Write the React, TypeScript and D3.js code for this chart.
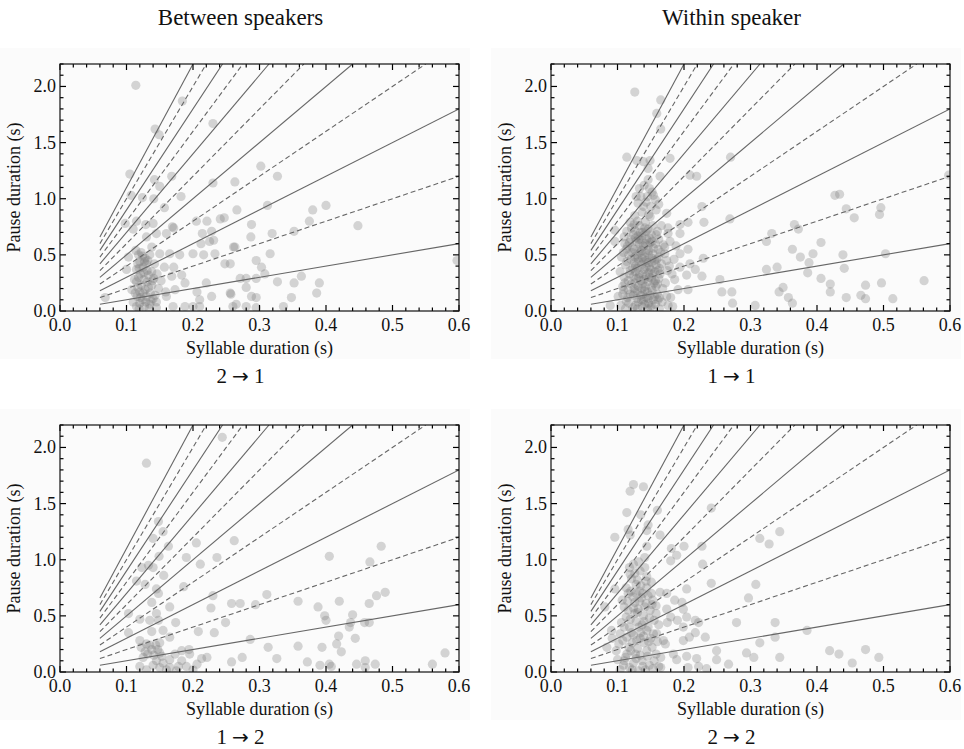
import React from 'react';
import * as d3 from 'd3';

type P = [number, number];

const slopes = [1, 2, 3, 4, 5, 6, 7, 8, 9, 10, 11];
const xTicks = [0, 0.1, 0.2, 0.3, 0.4, 0.5, 0.6];
const xTickLabels = ['0.0', '0.1', '0.2', '0.3', '0.4', '0.5', '0.6'];
const yTicks = [0, 0.5, 1, 1.5, 2];
const yTickLabels = ['0.0', '0.5', '1.0', '1.5', '2.0'];
const columnTitles = ['Between speakers', 'Within speaker'];
const panelFrom = ['2', '1', '1', '2'];
const panelTo = ['1', '1', '2', '2'];
const xLabel = 'Syllable duration (s)';
const yLabel = 'Pause duration (s)';

const between21: P[] = [
  [0.114,2.01],[0.143,1.62],[0.149,1.57],[0.184,1.87],[0.230,1.67],
  [0.105,1.22],[0.107,1.03],[0.124,1.01],[0.142,1.17],[0.150,1.11],[0.141,1.00],[0.168,1.20],[0.182,1.02],[0.157,0.92],[0.230,1.14],[0.263,1.15],[0.266,0.90],[0.247,0.83],[0.241,0.82],[0.221,0.80],[0.205,0.80],[0.098,0.78],[0.115,0.80],[0.129,0.77],[0.140,0.78],[0.169,0.75],
  [0.302,1.29],[0.327,1.20],[0.312,0.94],[0.288,0.77],[0.380,0.90],[0.400,0.94],[0.375,0.80],[0.448,0.76],[0.319,0.69],[0.352,0.71],
  [0.287,0.66],[0.263,0.57],[0.248,0.42],[0.256,0.42],[0.316,0.51],[0.295,0.45],[0.303,0.39],[0.308,0.33],[0.271,0.29],[0.280,0.29],[0.295,0.29],[0.280,0.21],[0.327,0.26],[0.352,0.25],[0.363,0.31],[0.390,0.25],[0.386,0.16],[0.348,0.12],[0.257,0.15],[0.288,0.13],[0.295,0.12],[0.265,0.06],[0.280,0.04],[0.295,0.03],[0.336,0.04],[0.597,0.45],
  [0.068,0.12],[0.110,0.73],[0.130,0.66],[0.145,0.69],[0.160,0.69],[0.171,0.74],[0.214,0.69],[0.228,0.71],[0.231,0.63],[0.212,0.60],[0.225,0.62],[0.200,0.51],[0.216,0.50],[0.233,0.51],[0.261,0.57],
  [0.103,0.48],[0.114,0.54],[0.118,0.50],[0.120,0.44],[0.128,0.47],[0.130,0.42],[0.138,0.57],[0.150,0.51],[0.165,0.51],[0.180,0.50],[0.157,0.39],[0.171,0.39],[0.168,0.31],[0.183,0.32],[0.115,0.37],[0.125,0.39],[0.138,0.35],[0.115,0.26],[0.122,0.23],[0.131,0.26],[0.138,0.23],[0.113,0.16],[0.120,0.17],[0.130,0.13],[0.140,0.11],[0.110,0.08],[0.120,0.07],[0.135,0.06],[0.145,0.08],[0.115,0.04],[0.127,0.04],[0.145,0.03],[0.100,0.37],[0.159,0.17],[0.173,0.19],[0.160,0.13],[0.170,0.04],[0.188,0.04],[0.206,0.17],[0.210,0.10],[0.200,0.04],[0.220,0.25],[0.228,0.13],[0.210,0.04],[0.256,0.16],[0.260,0.04],[0.188,0.25],
  [0.118,0.30],[0.126,0.28],[0.133,0.32],[0.121,0.12],[0.128,0.19],[0.136,0.16],[0.117,0.21],[0.124,0.10],[0.132,0.45],[0.122,0.52],[0.126,0.34],[0.141,0.29],[0.112,0.28],[0.119,0.02],[0.134,0.02],[0.148,0.20],[0.152,0.27],[0.108,0.19],[0.142,0.42],[0.135,0.50],
  [0.119,0.38],[0.127,0.44],[0.121,0.33],[0.133,0.21],[0.125,0.16],[0.137,0.09],[0.116,0.13],[0.129,0.08],[0.143,0.14],[0.124,0.49],[0.131,0.36],[0.139,0.27],[0.117,0.42],[0.146,0.33],
];

const within11: P[] = [
  [0.126,1.95],[0.165,1.88],[0.159,1.76],[0.165,1.62],[0.114,1.37],[0.129,1.34],[0.139,1.33],[0.149,1.34],[0.179,1.36],[0.270,1.37],[0.146,1.27],[0.164,1.20],[0.146,1.17],[0.209,1.21],[0.219,1.20],
  [0.133,1.09],[0.135,1.02],[0.145,1.02],[0.148,1.09],[0.154,1.03],[0.157,0.99],[0.131,0.96],[0.139,0.93],[0.150,0.93],[0.126,0.85],[0.174,0.87],[0.227,0.93],[0.206,0.79],[0.194,0.77],[0.230,0.79],[0.269,0.82],[0.096,0.72],[0.096,0.62],[0.111,0.60],
  [0.176,0.69],[0.179,0.62],[0.194,0.69],[0.194,0.51],[0.206,0.55],[0.171,0.51],[0.174,0.45],[0.229,0.47],[0.194,0.39],[0.209,0.42],[0.217,0.37],[0.227,0.31],[0.204,0.32],[0.186,0.28],[0.191,0.19],[0.206,0.19],[0.254,0.28],[0.257,0.17],[0.272,0.17],[0.273,0.07],[0.307,0.05],[0.089,0.05],[0.101,0.13],[0.109,0.19],[0.176,0.05],[0.174,0.13],[0.161,0.10],
  [0.598,1.21],[0.427,1.03],[0.434,1.04],[0.444,0.91],[0.456,0.83],[0.496,0.92],[0.494,0.86],[0.366,0.77],[0.372,0.73],[0.332,0.69],[0.324,0.62],[0.406,0.61],[0.363,0.55],[0.375,0.48],[0.394,0.51],[0.388,0.43],[0.386,0.34],[0.439,0.50],[0.441,0.38],[0.503,0.51],[0.324,0.37],[0.340,0.39],[0.406,0.29],[0.420,0.24],[0.420,0.17],[0.473,0.23],[0.497,0.25],[0.561,0.27],[0.343,0.17],[0.349,0.21],[0.357,0.12],[0.363,0.07],[0.444,0.12],[0.466,0.14],[0.473,0.11],[0.514,0.11],
  [0.105,0.05],[0.108,0.22],[0.110,0.30],[0.112,0.41],[0.106,0.48],[0.113,0.55],[0.110,0.66],[0.104,0.35],[0.115,0.12],[0.112,0.02],
  [0.117,0.07],[0.119,0.15],[0.121,0.24],[0.118,0.33],[0.123,0.38],[0.120,0.46],[0.122,0.52],[0.118,0.61],[0.124,0.68],[0.121,0.74],[0.119,0.79],[0.123,0.03],[0.116,0.27],[0.125,0.20],[0.122,0.57],
  [0.127,0.05],[0.129,0.11],[0.126,0.17],[0.131,0.22],[0.128,0.29],[0.133,0.33],[0.127,0.40],[0.132,0.44],[0.129,0.50],[0.134,0.55],[0.128,0.62],[0.131,0.67],[0.126,0.72],[0.133,0.76],[0.130,0.02],[0.135,0.14],[0.127,0.35],[0.133,0.60],[0.130,0.80],[0.135,0.27],
  [0.137,0.04],[0.139,0.09],[0.141,0.18],[0.138,0.24],[0.143,0.31],[0.140,0.37],[0.137,0.47],[0.142,0.52],[0.139,0.58],[0.144,0.64],[0.138,0.70],[0.141,0.74],[0.143,0.12],[0.136,0.41],[0.144,0.45],[0.140,0.28],[0.142,0.79],[0.138,0.15],[0.145,0.02],[0.136,0.63],
  [0.147,0.07],[0.149,0.14],[0.151,0.21],[0.146,0.26],[0.153,0.33],[0.148,0.39],[0.152,0.43],[0.147,0.50],[0.154,0.56],[0.149,0.61],[0.151,0.68],[0.146,0.73],[0.153,0.76],[0.150,0.03],[0.155,0.25],[0.148,0.30],[0.154,0.10],[0.146,0.58],[0.152,0.47],[0.149,0.84],
  [0.157,0.06],[0.160,0.15],[0.158,0.22],[0.162,0.29],[0.156,0.35],[0.163,0.38],[0.159,0.46],[0.165,0.52],[0.157,0.60],[0.162,0.64],[0.160,0.71],[0.166,0.76],[0.168,0.20],[0.164,0.33],[0.167,0.08],[0.158,0.41],[0.161,0.55],[0.169,0.59],[0.163,0.02],[0.166,0.42],
  [0.172,0.25],[0.175,0.36],[0.178,0.40],[0.182,0.33],[0.171,0.57],[0.185,0.46],[0.180,0.12],[0.183,0.04],[0.176,0.74],[0.188,0.58],
  [0.137,0.88],[0.143,0.97],[0.152,1.06],[0.140,1.12],[0.158,0.90],[0.128,1.02],[0.147,0.86],[0.162,0.95],
  [0.113,0.09],[0.116,0.19],[0.119,0.36],[0.114,0.44],[0.117,0.50],[0.115,0.58],[0.114,0.71],[0.120,0.64],[0.124,0.14],[0.126,0.25],[0.124,0.31],[0.125,0.43],[0.126,0.48],[0.125,0.55],[0.127,0.65],[0.125,0.77],[0.131,0.08],[0.130,0.18],[0.132,0.30],[0.130,0.38],[0.131,0.47],[0.134,0.52],[0.132,0.64],[0.134,0.70],[0.136,0.10],[0.137,0.20],[0.138,0.33],[0.136,0.54],[0.139,0.44],[0.137,0.67],[0.141,0.06],[0.142,0.22],[0.143,0.39],[0.141,0.48],[0.142,0.60],[0.143,0.71],[0.146,0.11],[0.145,0.17],[0.147,0.34],[0.146,0.43],[0.147,0.54],[0.148,0.65],[0.151,0.05],[0.152,0.18],[0.151,0.29],[0.150,0.37],[0.153,0.51],[0.152,0.62],[0.156,0.13],[0.157,0.27],[0.156,0.45],[0.158,0.68],[0.161,0.36],[0.162,0.48],[0.111,0.25],[0.108,0.15],[0.109,0.52],[0.163,0.12],[0.160,0.24],
];

const between12: P[] = [
  [0.130,1.86],[0.244,2.09],[0.148,1.34],[0.155,1.25],[0.140,1.19],[0.163,1.12],[0.205,1.15],[0.262,1.17],[0.190,1.02],[0.236,1.02],[0.149,1.03],[0.211,0.96],[0.123,0.93],[0.133,0.95],[0.140,0.93],[0.156,0.86],[0.115,0.81],[0.128,0.78],[0.145,0.74],[0.148,0.70],[0.138,0.62],[0.186,0.76],[0.230,0.68],[0.227,0.57],[0.165,0.58],[0.174,0.44],[0.311,0.69],[0.258,0.61],[0.271,0.61],[0.294,0.60],[0.103,0.52],[0.120,0.47],[0.145,0.52],[0.148,0.46],[0.135,0.46],[0.103,0.35],[0.138,0.36],[0.155,0.37],[0.208,0.36],[0.232,0.35],[0.249,0.44],[0.165,0.31],[0.150,0.26],[0.120,0.28],
  [0.122,0.22],[0.128,0.18],[0.135,0.24],[0.141,0.15],[0.147,0.20],[0.153,0.14],[0.125,0.13],[0.132,0.16],[0.138,0.20],[0.144,0.24],[0.150,0.17],[0.130,0.25],
  [0.183,0.19],[0.194,0.20],[0.173,0.16],[0.286,0.29],[0.313,0.22],[0.213,0.12],[0.221,0.13],[0.206,0.07],[0.200,0.02],[0.258,0.09],[0.274,0.13],[0.120,0.05],[0.145,0.10],[0.150,0.04],[0.165,0.04],[0.178,0.05],[0.165,0.11],[0.195,0.16],[0.183,0.10],
  [0.130,0.02],[0.155,0.08],[0.160,0.02],[0.140,0.06],[0.175,0.01],[0.190,0.05],
  [0.483,1.12],[0.405,1.03],[0.466,0.98],[0.489,0.71],[0.476,0.68],[0.465,0.61],[0.358,0.63],[0.420,0.63],[0.388,0.58],[0.398,0.50],[0.400,0.46],[0.440,0.51],[0.437,0.44],[0.435,0.40],[0.458,0.44],[0.465,0.44],[0.419,0.32],[0.416,0.25],[0.423,0.18],[0.444,0.30],[0.394,0.22],[0.358,0.23],[0.326,0.12],[0.372,0.09],[0.391,0.06],[0.405,0.07],[0.408,0.05],[0.446,0.07],[0.459,0.10],[0.459,0.04],[0.474,0.07],[0.560,0.07],[0.579,0.17],
];

const within22: P[] = [
  [0.124,1.67],[0.119,1.61],[0.139,1.65],[0.114,1.42],[0.135,1.40],[0.160,1.44],[0.241,1.46],[0.116,1.27],[0.119,1.22],[0.146,1.31],[0.144,1.26],[0.164,1.22],[0.096,1.20],[0.144,1.12],[0.181,1.10],[0.189,1.04],[0.180,0.99],[0.200,1.12],[0.227,1.12],[0.228,0.96],
  [0.141,1.02],[0.124,0.96],[0.134,0.90],[0.119,0.87],[0.141,0.93],[0.121,0.83],[0.128,0.78],[0.113,0.75],[0.133,0.72],[0.144,0.85],[0.151,0.80],[0.144,0.75],[0.096,0.74],[0.204,0.74],[0.241,0.79],[0.308,0.78],[0.164,0.71],[0.174,0.70],[0.081,0.58],
  [0.107,0.64],[0.126,0.62],[0.116,0.55],[0.131,0.56],[0.143,0.61],[0.153,0.64],[0.158,0.59],[0.186,0.64],[0.197,0.62],[0.199,0.56],[0.174,0.56],[0.180,0.49],[0.175,0.44],[0.190,0.46],[0.204,0.49],[0.217,0.46],[0.222,0.44],[0.297,0.66],[0.279,0.44],[0.232,0.31],[0.199,0.40],[0.217,0.35],[0.208,0.31],[0.199,0.28],
  [0.091,0.37],[0.104,0.34],[0.114,0.31],[0.124,0.33],[0.134,0.30],[0.144,0.37],[0.159,0.34],[0.169,0.28],[0.172,0.25],[0.084,0.22],[0.098,0.19],[0.114,0.16],[0.134,0.15],[0.144,0.19],[0.165,0.13],[0.100,0.11],[0.110,0.10],[0.124,0.08],[0.138,0.05],[0.148,0.06],[0.165,0.04],[0.118,0.40],[0.128,0.45],[0.113,0.49],[0.137,0.42],[0.148,0.48],[0.122,0.26],[0.130,0.21],[0.140,0.26],[0.152,0.22],[0.108,0.28],[0.118,0.04],[0.128,0.12],[0.155,0.10],[0.120,0.19],[0.135,0.35],[0.150,0.30],[0.106,0.44],[0.126,0.52],[0.139,0.50],[0.110,0.58],[0.123,0.67],[0.136,0.66],[0.116,0.70],[0.130,0.82],[0.146,0.68],[0.158,0.52],[0.162,0.42],[0.092,0.30],[0.104,0.02],[0.131,0.01],[0.158,0.16],
  [0.184,0.16],[0.189,0.11],[0.204,0.14],[0.219,0.12],[0.222,0.05],[0.162,0.05],[0.249,0.19],[0.249,0.11],[0.267,0.07],[0.294,0.17],[0.305,0.13],[0.206,0.04],[0.234,0.03],
  [0.344,1.25],[0.314,1.19],[0.328,1.14],[0.337,0.44],[0.337,0.31],[0.314,0.26],[0.385,0.37],[0.344,0.13],[0.419,0.19],[0.433,0.16],[0.453,0.08],[0.473,0.20],[0.493,0.13],
  [0.112,0.13],[0.117,0.22],[0.121,0.35],[0.119,0.47],[0.124,0.57],[0.120,0.72],[0.126,0.88],[0.129,0.28],[0.132,0.40],[0.130,0.53],[0.133,0.63],[0.135,0.77],[0.127,0.16],[0.137,0.10],[0.139,0.32],[0.140,0.45],[0.141,0.58],[0.138,0.70],[0.143,0.81],[0.145,0.14],[0.147,0.27],[0.146,0.40],[0.149,0.55],[0.151,0.70],[0.154,0.34],[0.155,0.46],[0.153,0.03],[0.109,0.06],[0.115,0.63],[0.118,0.93],[0.132,0.98],[0.110,0.40],[0.102,0.25],[0.122,0.02],[0.142,0.02],[0.160,0.27],[0.152,0.60],[0.128,0.70],
];

const PW = 399;
const PH = 247;
const FONT = '"Liberation Serif", "Times New Roman", serif';

function Panel({ id, left, top, data, from, to }: { id: string; left: number; top: number; data: P[]; from: string; to: string }) {
  const x = d3.scaleLinear().domain([0, 0.6]).range([0, PW]);
  const y = d3.scaleLinear().domain([0, 2.2]).range([PH, 0]);
  const xMinor = d3.range(0, 0.6001, 0.02);
  const yMinor = d3.range(0, 2.2001, 0.1);
  const isMajorX = (v: number) => Math.abs(v * 10 - Math.round(v * 10)) < 1e-6;
  const isMajorY = (v: number) => Math.abs(v * 2 - Math.round(v * 2)) < 1e-6;
  const lines = slopes.map((k) => {
    const x2 = Math.min(0.6, 2.2 / k);
    return { k, x1: 0.06, y1: 0.06 * k, x2, y2: k * x2 };
  });
  return (
    <g transform={`translate(${left},${top})`}>
      <defs>
        <clipPath id={`clip-${id}`}>
          <rect x={0} y={0} width={PW} height={PH} />
        </clipPath>
      </defs>
      <g clipPath={`url(#clip-${id})`}>
        {data.map((d, i) => (
          <circle key={i} cx={x(d[0])} cy={y(d[1])} r={4.6} fill="#777" fillOpacity={0.3} />
        ))}
        {lines.map((l) => (
          <line
            key={l.k}
            x1={x(l.x1)}
            y1={y(l.y1)}
            x2={x(l.x2)}
            y2={y(l.y2)}
            stroke="#666"
            strokeWidth={1.1}
            strokeDasharray={l.k % 2 === 0 ? '5,3' : undefined}
          />
        ))}
      </g>
      {xMinor.map((v, i) => {
        const len = isMajorX(v) ? 6 : 3.5;
        return (
          <g key={`xt${i}`}>
            <line x1={x(v)} x2={x(v)} y1={PH} y2={PH - len} stroke="#000" strokeWidth={1.2} />
            <line x1={x(v)} x2={x(v)} y1={0} y2={len} stroke="#000" strokeWidth={1.2} />
          </g>
        );
      })}
      {yMinor.map((v, i) => {
        const len = isMajorY(v) ? 6 : 3.5;
        return (
          <g key={`yt${i}`}>
            <line x1={0} x2={len} y1={y(v)} y2={y(v)} stroke="#000" strokeWidth={1.2} />
            <line x1={PW} x2={PW - len} y1={y(v)} y2={y(v)} stroke="#000" strokeWidth={1.2} />
          </g>
        );
      })}
      <rect x={0} y={0} width={PW} height={PH} fill="none" stroke="#111" strokeWidth={1.2} />
      {xTicks.map((v, i) => (
        <text key={`xl${i}`} x={x(v)} y={PH + 20} textAnchor="middle" fontFamily={FONT} fontSize={18} fill="#111">
          {xTickLabels[i]}
        </text>
      ))}
      {yTicks.map((v, i) => (
        <text key={`yl${i}`} x={-4} y={y(v) + 6} textAnchor="end" fontFamily={FONT} fontSize={18} fill="#111">
          {yTickLabels[i]}
        </text>
      ))}
      <text x={PW / 2} y={PH + 43} textAnchor="middle" fontFamily={FONT} fontSize={18} fill="#111">
        {xLabel}
      </text>
      <text
        transform={`translate(${-40},${PH / 2}) rotate(-90)`}
        textAnchor="middle"
        fontFamily={FONT}
        fontSize={18}
        fill="#111"
      >
        {yLabel}
      </text>
      <text x={PW / 2 - 19} y={PH + 72} textAnchor="middle" fontFamily={FONT} fontSize={21} fill="#111">
        <tspan>{from}</tspan>
        <tspan dx={5} fontFamily='"DejaVu Sans", sans-serif' fontSize={20}>{'\u2192'}</tspan>
        <tspan dx={5}>{to}</tspan>
      </text>
    </g>
  );
}

export default function App() {
  const lefts = [60, 551];
  const tops = [64, 425];
  const datasets = [between21, within11, between12, within22];
  return (
    <svg width={964} height={749} style={{ position: 'absolute', left: 0, top: 0, background: '#fff' }}>
      <rect x={0} y={0} width={964} height={749} fill="#fff" />
      {tops.map((t, r) =>
        lefts.map((l, c) => (
          <rect key={`bg${r}${c}`} x={l - 60} y={t - 16} width={470} height={311} fill="#fbfbfb" />
        ))
      )}
      {columnTitles.map((t, c) => (
        <text key={t} x={lefts[c] + PW / 2 - 19} y={25} textAnchor="middle" fontFamily={FONT} fontSize={23} fill="#111">
          {t}
        </text>
      ))}
      {datasets.map((d, i) => (
        <Panel
          key={i}
          id={`p${i}`}
          left={lefts[i % 2]}
          top={tops[Math.floor(i / 2)]}
          data={d}
          from={panelFrom[i]}
          to={panelTo[i]}
        />
      ))}
    </svg>
  );
}
